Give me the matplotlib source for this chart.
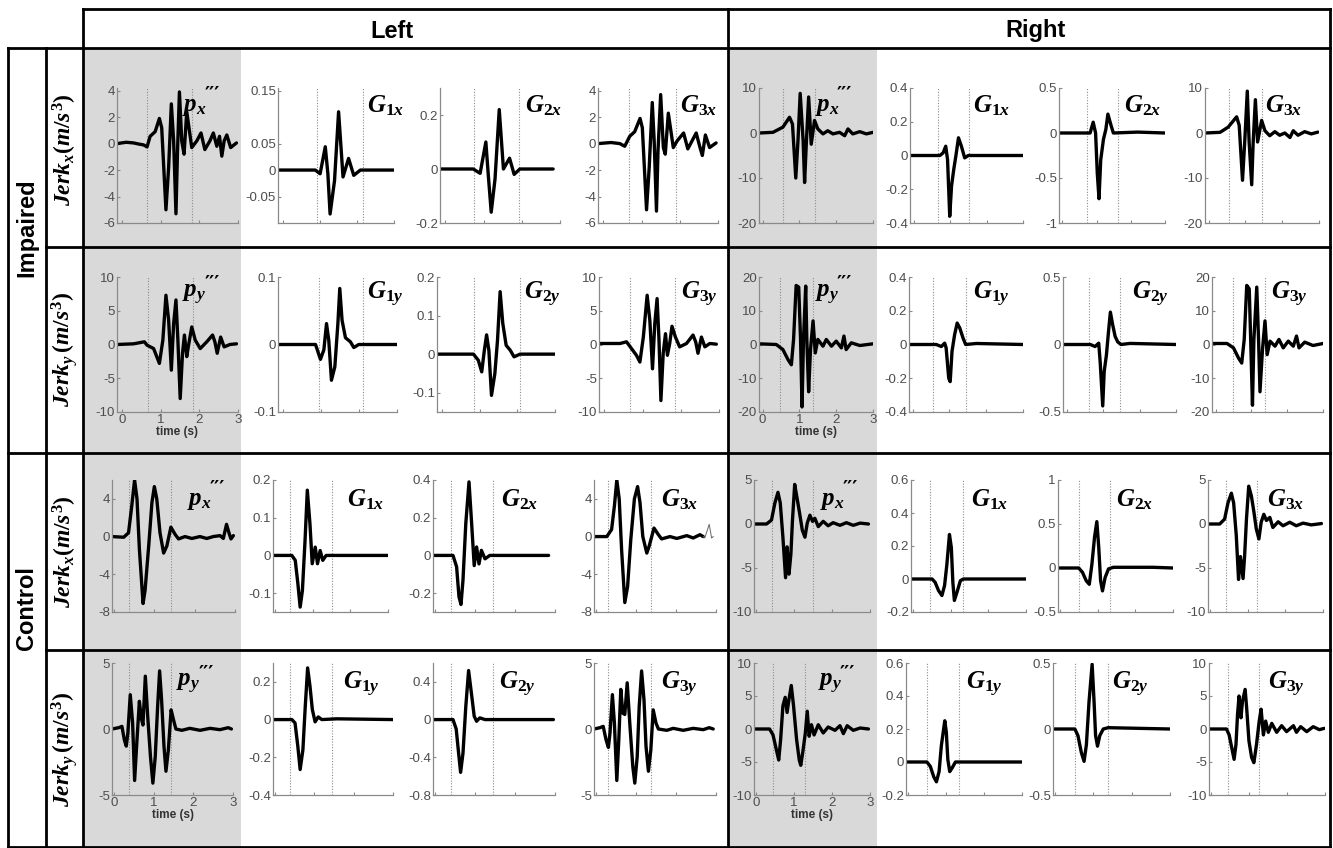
import matplotlib.pyplot as plt
from matplotlib.patches import Rectangle
from matplotlib.lines import Line2D

W, H = 1333, 848

# ---- traces: (time in s, jerk value) ----
# Impaired, left hand, x
imp_L_px = [(-0.14, 0), (0.1, 0.1), (0.29, 0.05), (0.45, -0.05), (0.55, -0.1), (0.64, -0.25), (0.72, 0.55),
            (0.85, 0.9), (0.96, 1.9), (1.02, 1.2), (1.13, -5.0), (1.20, -1.8), (1.27, 3.0), (1.33, 0.2),
            (1.39, -5.3), (1.43, -0.6), (1.48, 3.9), (1.54, 0.2), (1.60, -0.8), (1.67, 2.4), (1.80, -0.3),
            (1.93, 0.2), (2.04, 0.8), (2.14, -0.45), (2.27, 0.2), (2.36, 0.8), (2.45, -0.2), (2.52, 0.55),
            (2.58, -0.95), (2.64, 0.2), (2.71, 0.65), (2.81, -0.3), (2.96, 0.05)]
imp_L_g1x = [(-0.14, 0), (0.87, 0), (1.0, -0.007), (1.14, 0.044), (1.21, -0.007), (1.27, -0.083), (1.39, -0.02),
             (1.50, 0.11), (1.62, -0.013), (1.77, 0.022), (1.91, -0.01), (2.09, 0), (3.0, 0)]
imp_L_g2x = [(-0.14, 0), (0.73, 0), (0.91, -0.016), (1.06, 0.1), (1.12, -0.016), (1.20, -0.16), (1.30, -0.037),
             (1.41, 0.22), (1.52, 0), (1.68, 0.04), (1.80, -0.02), (1.95, 0), (2.82, 0)]
imp_L_g3x = [(-0.14, 0), (0.2, 0.08), (0.43, 0), (0.56, -0.2), (0.69, 0.55), (0.82, 0.9), (0.96, 1.9), (1.02, 1.2),
             (1.13, -5.0), (1.20, -1.8), (1.28, 3.1), (1.33, 0.2), (1.39, -5.1), (1.43, -0.55), (1.50, 3.7),
             (1.57, -0.3), (1.62, -0.8), (1.70, 2.3), (1.83, -0.3), (1.93, 0.2), (2.10, 0.8), (2.21, -0.4),
             (2.32, 0.2), (2.43, 0.8), (2.52, -0.2), (2.59, -0.9), (2.67, 0.65), (2.78, -0.3), (2.95, 0.05)]
# Impaired, right hand, x
imp_R_px = [(-0.1, 0), (0.28, 0.15), (0.55, 1.3), (0.73, 3.5), (0.81, 2.0), (0.90, -10.0), (0.96, -1.7),
            (1.02, 8.8), (1.10, -1.7), (1.14, -11.0), (1.19, -1.7), (1.25, 8.0), (1.32, -2.5), (1.41, 2.8),
            (1.50, 0.9), (1.64, -0.2), (1.77, 0.5), (1.91, -0.2), (2.09, 0.15), (2.23, -0.6), (2.32, 0.9),
            (2.45, -0.2), (2.64, 0.3), (2.82, -0.2), (3.0, 0.15)]
imp_R_g1x = [(-0.1, 0), (0.72, 0), (0.81, 0.016), (0.88, 0.055), (0.93, -0.024), (0.99, -0.36), (1.04, -0.18),
             (1.10, -0.083), (1.16, 0), (1.23, 0.105), (1.31, 0.055), (1.40, -0.014), (1.50, 0), (3.0, 0)]
imp_R_g2x = [(-0.1, 0), (0.81, 0), (0.90, 0.12), (0.97, 0), (1.02, -0.45), (1.07, -0.73), (1.12, -0.3),
             (1.20, -0.07), (1.27, 0.04), (1.33, 0.21), (1.41, 0.1), (1.49, 0), (2.2, 0.01), (3.0, 0)]
imp_R_g3x = [(-0.1, 0), (0.31, 0.15), (0.53, 1.3), (0.76, 3.6), (0.83, 1.7), (0.92, -10.5), (0.98, -2.0),
             (1.05, 9.3), (1.10, -2.0), (1.17, -11.5), (1.21, -2.0), (1.27, 7.4), (1.33, -2.0), (1.44, 2.8),
             (1.53, 0.5), (1.66, -0.6), (1.80, 0.3), (1.93, -0.5), (2.07, 0), (2.21, -1.0), (2.30, 0.5),
             (2.43, -0.5), (2.61, 0.3), (2.79, -0.2), (2.97, 0.2)]
# Impaired, left hand, y
imp_L_py = [(-0.14, 0), (0.29, 0.1), (0.57, 0.4), (0.64, -0.1), (0.81, -0.6), (0.96, -2.8), (1.05, 0.65),
            (1.13, 7.3), (1.20, 3.6), (1.27, -3.8), (1.33, 3.1), (1.39, 6.6), (1.44, 0.65), (1.50, -8.0),
            (1.56, -1.3), (1.61, 1.4), (1.67, -1.8), (1.71, -0.35), (1.80, 2.6), (1.89, 0.65), (2.02, -0.6),
            (2.19, 0.4), (2.34, 1.4), (2.40, 0.4), (2.46, -1.3), (2.55, 1.1), (2.64, -0.35), (2.79, 0),
            (2.96, 0.1)]
imp_L_g1y = [(-0.14, 0), (0.85, 0), (0.98, -0.022), (1.07, -0.008), (1.14, 0.031), (1.20, 0.006), (1.27, -0.053),
             (1.36, -0.033), (1.44, 0.031), (1.49, 0.083), (1.55, 0.036), (1.64, 0.01), (1.77, 0.004),
             (1.86, -0.0045), (1.99, 0), (3.0, 0)]
imp_L_g2y = [(-0.14, 0), (0.83, 0), (0.96, -0.016), (1.05, -0.046), (1.12, 0.01), (1.18, 0.05), (1.24, 0.01),
             (1.31, -0.107), (1.40, -0.05), (1.47, 0.036), (1.54, 0.162), (1.61, 0.08), (1.70, 0.023),
             (1.81, 0.01), (1.91, -0.007), (2.07, 0), (3.0, 0)]
imp_L_g3y = [(-0.14, 0.15), (0.41, 0.15), (0.58, 0.4), (0.71, -0.6), (0.84, -1.6), (0.93, -2.6), (1.02, 1.1),
             (1.12, 7.3), (1.19, 3.6), (1.26, -3.6), (1.32, 3.1), (1.38, 6.8), (1.43, 0.65), (1.48, -8.3),
             (1.54, -1.3), (1.60, 1.6), (1.65, -1.6), (1.71, 0.15), (1.77, 2.7), (1.86, 1.1), (1.97, -0.35),
             (2.15, 0.15), (2.32, 1.4), (2.39, 0.4), (2.45, -1.3), (2.54, 1.1), (2.63, -0.35), (2.76, 0.15),
             (2.93, 0.05)]
# Impaired, right hand, y
imp_R_py = [(-0.1, 0.2), (0.37, 0), (0.55, -1.5), (0.69, -4.5), (0.78, -6.0), (0.84, 1.5), (0.91, 17.5),
            (0.98, 17.0), (1.03, 1.5), (1.07, -18.5), (1.11, 1.5), (1.17, 17.3), (1.20, 1.5), (1.25, -14.0),
            (1.30, -1.5), (1.37, 7.0), (1.43, -2.5), (1.50, 1.5), (1.64, -0.5), (1.73, 1.5), (1.87, -0.5),
            (2.00, 1.0), (2.14, -1.0), (2.21, 2.5), (2.27, -1.5), (2.41, 0.5), (2.64, -0.3), (3.0, 0.2)]
imp_R_g1y = [(-0.1, 0), (0.64, 0), (0.78, -0.012), (0.87, 0.008), (0.91, -0.02), (0.98, -0.2), (1.02, -0.22),
             (1.07, -0.04), (1.14, 0.058), (1.21, 0.127), (1.28, 0.098), (1.37, 0.038), (1.44, 0),
             (1.73, 0.006), (3.0, 0)]
imp_R_g2y = [(-0.1, 0), (0.65, 0), (0.78, -0.015), (0.88, 0.01), (0.92, -0.13), (0.99, -0.455), (1.03, -0.2),
             (1.09, -0.08), (1.15, 0.1), (1.20, 0.24), (1.26, 0.15), (1.33, 0.06), (1.40, 0.02), (1.49, 0),
             (1.74, 0.008), (3.0, 0)]
imp_R_g3y = [(-0.1, 0.3), (0.32, 0.3), (0.50, -1.0), (0.64, -4.0), (0.73, -5.5), (0.80, 1.5), (0.87, 17.5),
             (0.94, 16.5), (0.98, 1.5), (1.03, -18.0), (1.07, 1.5), (1.15, 17.0), (1.20, 1.5), (1.24, -14.0),
             (1.31, -1.5), (1.38, 7.0), (1.44, -3.0), (1.52, 1.0), (1.66, -0.5), (1.77, 1.5), (1.89, -1.0),
             (2.03, 1.0), (2.17, -0.5), (2.26, 2.5), (2.33, -1.0), (2.49, 0.7), (2.72, -0.3), (3.0, 0.3)]
# Control, left hand, x
ctl_L_px = [(-0.05, 0), (0.24, -0.07), (0.36, 0.4), (0.44, 3.25), (0.51, 6.0), (0.57, 4.0), (0.63, -1.4),
            (0.72, -7.1), (0.77, -5.7), (0.86, -1.0), (0.94, 3.6), (1.00, 5.3), (1.06, 4.0), (1.14, 0.4),
            (1.23, -1.75), (1.31, -1.0), (1.41, 1.0), (1.52, 0.2), (1.60, -0.25), (1.76, 0), (1.93, -0.2),
            (2.13, 0), (2.30, -0.2), (2.46, 0), (2.63, 0.1), (2.71, -0.2), (2.79, 1.3), (2.85, 0.4),
            (2.90, -0.25), (2.96, 0.1)]
ctl_L_g1x = [(-0.05, 0), (0.45, 0), (0.54, -0.013), (0.61, -0.075), (0.67, -0.137), (0.73, -0.093), (0.80, 0.04),
             (0.86, 0.173), (0.93, 0.084), (0.99, -0.022), (1.07, 0.022), (1.13, -0.022), (1.20, 0.013),
             (1.27, -0.013), (1.36, 0), (3.0, 0)]
ctl_L_g2x = [(-0.05, 0), (0.45, 0), (0.54, -0.06), (0.60, -0.22), (0.65, -0.26), (0.70, -0.13), (0.77, 0.17),
             (0.85, 0.39), (0.91, 0.19), (0.98, -0.054), (1.04, 0.045), (1.10, -0.045), (1.16, 0.027),
             (1.25, -0.018), (1.37, 0), (2.84, 0)]
ctl_L_g3x = [(-0.05, 0), (0.27, 0), (0.39, 0.75), (0.46, 3.25), (0.52, 6.0), (0.58, 4.0), (0.64, -1.4),
             (0.72, -7.0), (0.79, -5.3), (0.87, -0.3), (0.96, 4.0), (1.04, 5.3), (1.10, 3.6), (1.17, 0),
             (1.27, -1.75), (1.33, -1.0), (1.45, 0.9), (1.56, 0.2), (1.64, -0.25), (1.85, 0), (2.02, -0.2),
             (2.27, 0.1), (2.43, -0.15), (2.60, 0.2), (2.68, 0)]
ctl_L_g3x_tail = [(2.68, 0), (2.72, -0.15), (2.83, 1.3), (2.89, -0.15), (2.93, 0)]
# Control, right hand, x
ctl_R_px = [(-0.05, 0), (0.28, 0), (0.41, 0.45), (0.50, 2.4), (0.58, 3.6), (0.64, 2.4), (0.71, -1.5),
            (0.78, -6.1), (0.82, -2.6), (0.87, -5.7), (0.92, -3.4), (0.96, 0.3), (1.02, 4.5), (1.08, 3.0),
            (1.15, 1.2), (1.22, -0.7), (1.29, -1.5), (1.35, 0.1), (1.42, 1.0), (1.49, 0.3), (1.55, 0.65),
            (1.64, -0.3), (1.77, 0.3), (1.90, -0.2), (2.03, 0.15), (2.21, -0.15), (2.38, 0.15), (2.56, -0.15),
            (2.74, 0.1), (2.96, 0)]
ctl_R_g1x = [(-0.05, 0), (0.51, 0), (0.59, -0.02), (0.68, -0.07), (0.77, -0.1), (0.84, -0.04), (0.90, 0.085),
             (0.97, 0.27), (1.02, 0.19), (1.06, -0.02), (1.10, -0.13), (1.17, -0.08), (1.26, -0.01),
             (1.34, 0), (3.0, 0)]
ctl_R_g2x = [(-0.05, 0), (0.50, 0), (0.60, -0.05), (0.70, -0.146), (0.78, -0.185), (0.85, 0.046), (0.92, 0.354),
             (0.98, 0.527), (1.03, 0.238), (1.08, -0.146), (1.13, -0.26), (1.20, -0.108), (1.29, -0.01),
             (1.42, 0.008), (2.47, 0.008), (3.0, 0)]
ctl_R_g3x = [(-0.05, 0), (0.26, 0), (0.39, 0.55), (0.48, 2.4), (0.57, 3.5), (0.63, 2.4), (0.70, -1.3),
             (0.76, -6.3), (0.81, -3.7), (0.88, -6.2), (0.92, -3.7), (0.97, 0.55), (1.03, 4.3), (1.10, 3.2),
             (1.17, 1.3), (1.23, -0.55), (1.30, -1.7), (1.36, 0.2), (1.43, 1.1), (1.50, 0.4), (1.59, 0.75),
             (1.67, -0.4), (1.81, 0.25), (1.94, -0.2), (2.12, 0.2), (2.29, -0.2), (2.47, 0.1), (2.69, -0.1),
             (2.96, 0.05)]
# Control, left hand, y
ctl_L_py = [(-0.05, 0), (0.12, 0.1), (0.20, 0.2), (0.26, -0.8), (0.31, -1.3), (0.35, -0.3), (0.41, 2.6),
            (0.47, 0.45), (0.52, -3.9), (0.58, -0.8), (0.64, 2.1), (0.69, 0.8), (0.73, 0.3), (0.79, 4.0),
            (0.85, 0.95), (0.92, -2.1), (0.98, -4.1), (1.04, -2.1), (1.10, 1.7), (1.15, 4.4), (1.20, 2.2),
            (1.26, -1.3), (1.31, -3.2), (1.37, -1.6), (1.44, 1.45), (1.50, 0.7), (1.56, 0), (1.71, -0.1),
            (1.91, 0.05), (2.17, -0.1), (2.42, 0.05), (2.67, -0.05), (2.88, 0.1), (2.96, 0)]
ctl_L_g1y = [(-0.05, 0), (0.43, 0), (0.51, -0.018), (0.58, -0.14), (0.64, -0.265), (0.71, -0.16), (0.77, 0.07),
             (0.83, 0.274), (0.89, 0.177), (0.95, 0.053), (1.02, -0.012), (1.10, 0.014), (1.19, 0),
             (1.57, 0.004), (3.0, 0)]
ctl_L_g2y = [(-0.05, 0), (0.45, 0), (0.53, -0.1), (0.59, -0.355), (0.64, -0.56), (0.70, -0.355), (0.77, 0.14),
             (0.84, 0.52), (0.91, 0.28), (0.98, 0.035), (1.04, -0.018), (1.12, 0.018), (1.25, 0), (2.96, 0)]
ctl_L_g3y = [(-0.05, 0), (0.10, 0.1), (0.18, 0.2), (0.25, -0.8), (0.31, -1.4), (0.35, -0.3), (0.41, 2.6),
             (0.46, 0.45), (0.52, -3.9), (0.57, -0.8), (0.62, 3.0), (0.67, 1.2), (0.72, 1.1), (0.78, 3.5),
             (0.85, 0.2), (0.92, -2.85), (0.97, -4.1), (1.03, -2.1), (1.08, 1.7), (1.14, 4.4), (1.20, 2.2),
             (1.25, -1.3), (1.31, -3.2), (1.37, -1.6), (1.43, 1.45), (1.50, 0.45), (1.56, 0), (1.77, -0.1),
             (1.93, 0.05), (2.18, -0.1), (2.43, 0.05), (2.68, -0.05), (2.83, 0.1), (2.93, 0)]
# Control, right hand, y
ctl_R_py = [(-0.05, 0), (0.36, 0), (0.45, -0.9), (0.54, -3.2), (0.60, -4.7), (0.65, -1.6), (0.71, 3.5),
            (0.77, 4.8), (0.82, 2.5), (0.87, 4.5), (0.93, 6.6), (0.99, 3.5), (1.07, -1.6), (1.14, -4.7),
            (1.18, -5.5), (1.24, -3.2), (1.30, -0.6), (1.35, 2.7), (1.40, -1.1), (1.46, 0.65), (1.53, -0.9),
            (1.64, 0.65), (1.77, -0.6), (1.90, 0.3), (2.08, -0.2), (2.21, 0.5), (2.30, -0.7), (2.40, 0.5),
            (2.56, -0.2), (2.74, 0.15), (2.96, 0)]
ctl_R_g1y = [(-0.05, 0), (0.50, 0), (0.59, -0.027), (0.68, -0.09), (0.75, -0.12), (0.82, -0.058), (0.88, 0.1),
             (0.97, 0.25), (1.01, 0.18), (1.05, 0.014), (1.10, -0.058), (1.16, -0.037), (1.25, 0), (3.0, 0)]
ctl_R_g2y = [(-0.05, 0), (0.52, 0), (0.60, -0.05), (0.69, -0.18), (0.76, -0.245), (0.82, -0.12), (0.89, 0.21),
             (0.97, 0.49), (1.02, 0.21), (1.06, -0.05), (1.11, -0.13), (1.17, -0.05), (1.26, 0), (1.39, 0.01),
             (3.0, 0)]
ctl_R_g3y = [(-0.05, 0), (0.41, 0), (0.48, -0.9), (0.55, -2.9), (0.61, -4.6), (0.66, -2.3), (0.70, 2.2),
             (0.74, 5.0), (0.79, 1.7), (0.83, 4.2), (0.90, 6.0), (0.94, 3.2), (1.00, -1.8), (1.07, -4.3),
             (1.13, -5.1), (1.20, -2.3), (1.27, 1.2), (1.32, 3.0), (1.38, -0.9), (1.44, 1.2), (1.51, -0.5),
             (1.60, 0.85), (1.73, -0.5), (1.86, 0.5), (1.99, -0.4), (2.17, 0.5), (2.25, -0.5), (2.36, 0.35),
             (2.52, -0.4), (2.69, 0.35), (2.85, -0.1), (2.98, 0.1)]

# movement onset / end markers (dotted), per panel
dots_row1 = [(0.64, 1.80), (0.91, 2.15), (0.76, 1.93), (0.67, 1.90), (0.55, 1.43), (0.675, 1.52), (0.73, 1.64), (0.56, 1.44)]
dots_row2 = [(0.66, 1.83), (0.93, 2.10), (0.85, 2.07), (0.67, 1.84), (0.48, 1.37), (0.56, 1.44), (0.60, 1.47), (0.48, 1.38)]
dots_row3 = [(0.36, 1.42), (0.39, 1.51), (0.41, 1.45), (0.31, 1.38), (0.42, 1.51), (0.46, 1.32), (0.50, 1.33), (0.44, 1.26)]
dots_row4 = [(0.37, 1.43), (0.37, 1.44), (0.41, 1.45), (0.31, 1.38), (0.45, 1.30), (0.50, 1.35), (0.52, 1.39), (0.46, 1.27)]

# y ranges and ticks
ylim_row1 = [(-6, 4.2), (-0.1, 0.155), (-0.2, 0.3), (-6, 4.2), (-20, 10), (-0.4, 0.4), (-1, 0.5), (-20, 10)]
ytk_row1 = [[-6, -4, -2, 0, 2, 4], [-0.05, 0, 0.05, 0.15], [-0.2, 0, 0.2], [-6, -4, -2, 0, 2, 4],
            [-20, -10, 0, 10], [-0.4, -0.2, 0, 0.2, 0.4], [-1, -0.5, 0, 0.5], [-20, -10, 0, 10]]
ylim_row2 = [(-10, 10), (-0.1, 0.1), (-0.15, 0.2), (-10, 10), (-20, 20), (-0.4, 0.4), (-0.5, 0.5), (-20, 20)]
ytk_row2 = [[-10, -5, 0, 5, 10], [-0.1, 0, 0.1], [-0.1, 0, 0.1, 0.2], [-10, -5, 0, 5, 10],
            [-20, -10, 0, 10, 20], [-0.4, -0.2, 0, 0.2, 0.4], [-0.5, 0, 0.5], [-20, -10, 0, 10, 20]]
ylim_row3 = [(-8, 6), (-0.15, 0.2), (-0.3, 0.4), (-8, 6), (-10, 5), (-0.2, 0.6), (-0.5, 1), (-10, 5)]
ytk_row3 = [[-8, -4, 0, 4], [-0.1, 0, 0.1, 0.2], [-0.2, 0, 0.2, 0.4], [-8, -4, 0, 4],
            [-10, -5, 0, 5], [-0.2, 0, 0.2, 0.4, 0.6], [-0.5, 0, 0.5, 1], [-10, -5, 0, 5]]
ylim_row4 = [(-5, 5), (-0.4, 0.3), (-0.8, 0.6), (-5, 5), (-10, 10), (-0.2, 0.6), (-0.5, 0.5), (-10, 10)]
ytk_row4 = [[-5, 0, 5], [-0.4, -0.2, 0, 0.2], [-0.8, -0.4, 0, 0.4], [-5, 0, 5],
            [-10, -5, 0, 5, 10], [-0.2, 0, 0.2, 0.4, 0.6], [-0.5, 0, 0.5], [-10, -5, 0, 5, 10]]

xlim_imp = [(-0.14, 3.0), (-0.1, 3.0)]
xlim_ctl = [(-0.05, 3.0), (-0.05, 3.0)]
time_ticks = [0, 1, 2, 3]

labels_x = [r"$p_x$", r"$G_{1x}$", r"$G_{2x}$", r"$G_{3x}$"]
labels_y = [r"$p_y$", r"$G_{1y}$", r"$G_{2y}$", r"$G_{3y}$"]

plt.rcParams['axes.unicode_minus'] = False
plt.rcParams['font.family'] = ['Liberation Sans', 'DejaVu Sans']
plt.rcParams['mathtext.fontset'] = 'custom'
plt.rcParams['mathtext.it'] = 'Liberation Serif:italic:bold'
plt.rcParams['mathtext.rm'] = 'Liberation Serif:bold'
plt.rcParams['mathtext.bf'] = 'Liberation Serif:bold'


def fx(x):
    return x / W


def fy(y):
    return 1 - y / H


fig = plt.figure(figsize=(W / 100, H / 100), dpi=100)

# grey background behind the measured-signal columns
for x0, x1 in [(83, 241), (728, 877)]:
    fig.patches.append(Rectangle((fx(x0), fy(848)), fx(x1) - fx(x0), fy(48) - fy(848),
                                 transform=fig.transFigure, facecolor='#d9d9d9', edgecolor='none', zorder=-5))

rows = [
    dict(top=88, bot=223, traces=[imp_L_px, imp_L_g1x, imp_L_g2x, imp_L_g3x, imp_R_px, imp_R_g1x, imp_R_g2x, imp_R_g3x],
         dots=dots_row1, ylim=ylim_row1, ytk=ytk_row1, xl=xlim_imp, labels=labels_x, time=False,
         lab_x=[0.54, 0.77, 0.71, 0.68, 0.49, 0.56, 0.61, 0.53], lab_y=0.87,
         cols=[(117, 238), (278, 394), (440, 560), (598, 718), (759, 873), (910, 1023), (1059, 1165), (1205, 1319)]),
    dict(top=277, bot=412, traces=[imp_L_py, imp_L_g1y, imp_L_g2y, imp_L_g3y, imp_R_py, imp_R_g1y, imp_R_g2y, imp_R_g3y],
         dots=dots_row2, ylim=ylim_row2, ytk=ytk_row2, xl=xlim_imp, labels=labels_y, time=True,
         lab_x=[0.54, 0.75, 0.74, 0.68, 0.49, 0.56, 0.61, 0.53], lab_y=0.87,
         cols=[(117, 238), (278, 397), (437, 555), (599, 719), (759, 873), (909, 1023), (1063, 1176), (1212, 1323)]),
    dict(top=480, bot=612, traces=[ctl_L_px, ctl_L_g1x, ctl_L_g2x, ctl_L_g3x, ctl_R_px, ctl_R_g1x, ctl_R_g2x, ctl_R_g3x],
         dots=dots_row3, ylim=ylim_row3, ytk=ytk_row3, xl=xlim_ctl, labels=labels_x, time=False,
         lab_x=[0.61, 0.64, 0.56, 0.55, 0.57, 0.52, 0.50, 0.51], lab_y=0.85,
         cols=[(112, 235), (273, 388), (433, 555), (594, 716), (754, 870), (911, 1026), (1058, 1173), (1208, 1323)]),
    dict(top=663, bot=795, traces=[ctl_L_py, ctl_L_g1y, ctl_L_g2y, ctl_L_g3y, ctl_R_py, ctl_R_g1y, ctl_R_g2y, ctl_R_g3y],
         dots=dots_row4, ylim=ylim_row4, ytk=ytk_row4, xl=xlim_ctl, labels=labels_y, time=True,
         lab_x=[0.53, 0.58, 0.54, 0.55, 0.55, 0.52, 0.50, 0.51], lab_y=0.84,
         cols=[(112, 233), (273, 393), (433, 555), (594, 716), (754, 870), (906, 1022), (1053, 1170), (1209, 1325)]),
]

for r in rows:
    for i in range(8):
        x0, x1 = r['cols'][i]
        ax = fig.add_axes([fx(x0), fy(r['bot']), fx(x1) - fx(x0), fy(r['top']) - fy(r['bot'])])
        ax.set_facecolor('none')
        t, v = zip(*r['traces'][i])
        for d in r['dots'][i]:
            ax.axvline(d, color='#8c8c8c', lw=0.8, ls=(0, (1, 1.5)))
        ax.plot(t, v, color='black', lw=2.4, solid_joinstyle='round', solid_capstyle='round')
        if r['traces'][i] is ctl_L_g3x:
            tt, vv = zip(*ctl_L_g3x_tail)
            ax.plot(tt, vv, color='#666666', lw=0.7)
        ax.set_xlim(r['xl'][i // 4])
        ax.set_ylim(r['ylim'][i])
        ax.set_yticks(r['ytk'][i])
        ax.set_yticklabels(['%g' % y for y in r['ytk'][i]])
        ax.set_xticks(time_ticks)
        if r['time'] and i % 4 == 0:
            ax.set_xticklabels([str(k) for k in time_ticks])
            ax.set_xlabel('time (s)', fontsize=8.5, fontweight='bold', color='#333333', labelpad=0)
        else:
            ax.set_xticklabels([])
        for s in ['top', 'right']:
            ax.spines[s].set_visible(False)
        for s in ['left', 'bottom']:
            ax.spines[s].set_color('#8a8a8a')
            ax.spines[s].set_linewidth(0.9)
        ax.tick_params(direction='in', length=2.5, width=0.8, colors='#8a8a8a',
                       labelcolor='#4d4d4d', labelsize=9.5, pad=1.5)
        ax.text(r['lab_x'][i], r['lab_y'], r['labels'][i % 4], transform=ax.transAxes,
                fontsize=18, ha='left', va='center', clip_on=False)
        if i % 4 == 0:
            # triple prime of the third derivative, set just right of the subscript
            ax.annotate('\u2032\u2032\u2032', xy=(r['lab_x'][i], r['lab_y']), xycoords='axes fraction',
                        xytext=(16, 8), textcoords='offset points', fontsize=14,
                        family=['DejaVu Serif'], fontweight='bold', va='center', ha='left')

# table lines
hlines = [(9, 83, 1330), (48, 8, 1330), (247, 46, 1330), (453, 8, 1330), (650, 46, 1330), (847, 8, 1330)]
vlines = [(8, 48, 848), (46, 48, 848), (83, 9, 848), (728, 9, 848), (1330, 9, 848)]
for y, a, b in hlines:
    fig.lines.append(Line2D([fx(a), fx(b)], [fy(y), fy(y)], transform=fig.transFigure,
                            color='black', lw=2, zorder=10))
for x, a, b in vlines:
    fig.lines.append(Line2D([fx(x), fx(x)], [fy(a), fy(b)], transform=fig.transFigure,
                            color='black', lw=2, zorder=10))

# headers
fig.text(fx(392), fy(32), 'Left', fontsize=17, fontweight='bold', ha='center', va='center')
fig.text(fx(1036), fy(30), 'Right', fontsize=17, fontweight='bold', ha='center', va='center')
fig.text(fx(27), fy(228), 'Impaired', fontsize=17, fontweight='bold', rotation=90, ha='center', va='center')
fig.text(fx(27), fy(608), 'Control', fontsize=17, fontweight='bold', rotation=90, ha='center', va='center')
for yc, lab in [(150, r'$Jerk_x(m/s^3)$'), (350, r'$Jerk_y\,(m/s^3)$'),
                (552, r'$Jerk_x(m/s^3)$'), (750, r'$Jerk_y\,(m/s^3)$')]:
    fig.text(fx(65), fy(yc), lab, fontsize=17, rotation=90, ha='center', va='center')

fig.savefig('out.png', dpi=100)
